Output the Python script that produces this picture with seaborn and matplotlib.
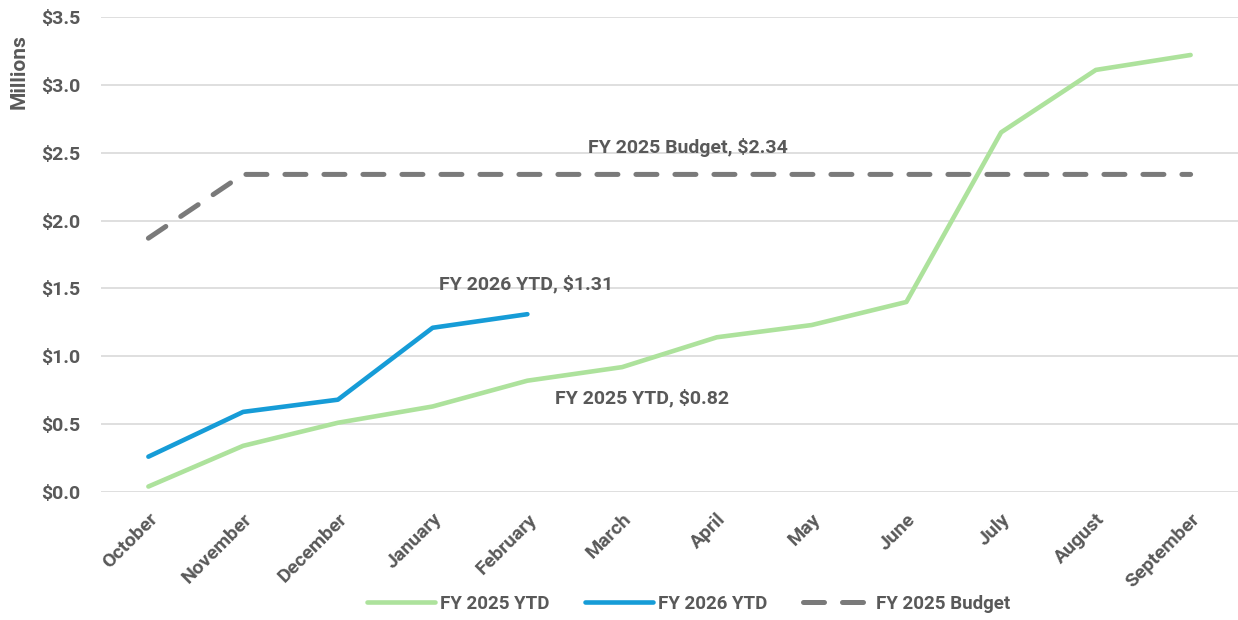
import matplotlib
matplotlib.use("Agg")
import matplotlib.pyplot as plt
import seaborn as sns
import numpy as np
import pandas as pd

months = ["October", "November", "December", "January", "February", "March",
          "April", "May", "June", "July", "August", "September"]
fy2025_ytd = [0.04, 0.34, 0.51, 0.63, 0.82, 0.92, 1.14, 1.23, 1.40, 2.65, 3.11, 3.22]
fy2026_ytd = [0.26, 0.59, 0.68, 1.21, 1.31]
fy2025_budget = [1.87, 2.34, 2.34, 2.34, 2.34, 2.34, 2.34, 2.34, 2.34, 2.34, 2.34, 2.34]
y_ticks = [0.0, 0.5, 1.0, 1.5, 2.0, 2.5, 3.0, 3.5]

sns.set_theme(style="white")
plt.rcParams['font.family'] = ['Roboto', 'DejaVu Sans']

GREEN = "#ADE29C"
BLUE = "#169CD7"
GRAY = "#7A7A7A"
TEXT = "#595959"
narrow = ['Liberation Sans Narrow', 'Roboto', 'DejaVu Sans']

fig = plt.figure(figsize=(12.38, 6.2), dpi=100)
ax = fig.add_axes([0.0816, 0.2065, 0.9184, 0.7661])

idx = np.arange(len(months))
df25 = pd.DataFrame({"x": idx, "y": fy2025_ytd})
df26 = pd.DataFrame({"x": idx[:len(fy2026_ytd)], "y": fy2026_ytd})
dfb = pd.DataFrame({"x": idx, "y": fy2025_budget})

sns.lineplot(data=df25, x="x", y="y", ax=ax, color=GREEN, lw=3.3,
             label="FY 2025 YTD", solid_capstyle="round")
sns.lineplot(data=df26, x="x", y="y", ax=ax, color=BLUE, lw=3.3,
             label="FY 2026 YTD", solid_capstyle="round")
sns.lineplot(data=dfb, x="x", y="y", ax=ax, color=GRAY, lw=3.6,
             label="FY 2025 Budget", dash_capstyle="round")
ax.lines[-1].set_dashes([4.2, 3.6])

ax.set_xlim(-0.5, len(months) - 0.5)
ax.set_ylim(0, 3.5)
ax.set_yticks(y_ticks)
ax.set_yticklabels([f"${v:.1f}" for v in y_ticks], fontsize=14,
                   fontweight="bold", color=TEXT)
ax.set_xticks(idx)
ax.set_xticklabels(months, rotation=45, ha="right", va="top",
                   rotation_mode="anchor", fontsize=14, fontweight="bold",
                   color=TEXT)
ax.tick_params(axis="x", pad=13, length=0)
ax.tick_params(axis="y", pad=15, length=0)
ax.set_xlabel("")
ax.set_ylabel("Millions", fontsize=15, fontweight="bold", color=TEXT)
ax.yaxis.set_label_coords(-0.064, 0.885)

ax.grid(axis="y", color="#D9D9D9", lw=1.2)
ax.set_axisbelow(True)
for s in ax.spines.values():
    s.set_visible(False)

ax.text(5.69, 2.54, "FY 2025 Budget, $2.34", ha="center", va="center",
        fontsize=14, fontweight="bold", color=TEXT, family=narrow)
ax.text(3.99, 1.53, "FY 2026 YTD, $1.31", ha="center", va="center",
        fontsize=14, fontweight="bold", color=TEXT, family=narrow)
ax.text(5.21, 0.69, "FY 2025 YTD, $0.82", ha="center", va="center",
        fontsize=14, fontweight="bold", color=TEXT, family=narrow)

leg = ax.legend(loc="center", ncol=3,
                frameon=False, handlelength=3.65, columnspacing=1.9,
                handletextpad=0.25,
                prop={"family": narrow, "weight": "bold", "size": 13.5})
for t in leg.get_texts():
    t.set_color(TEXT)
leg.set_bbox_to_anchor((0.5 + 19 / 1137, -(604 - 492) / (0.7661 * 620)),
                       transform=ax.transAxes)

fig.savefig("out.png", dpi=100)
